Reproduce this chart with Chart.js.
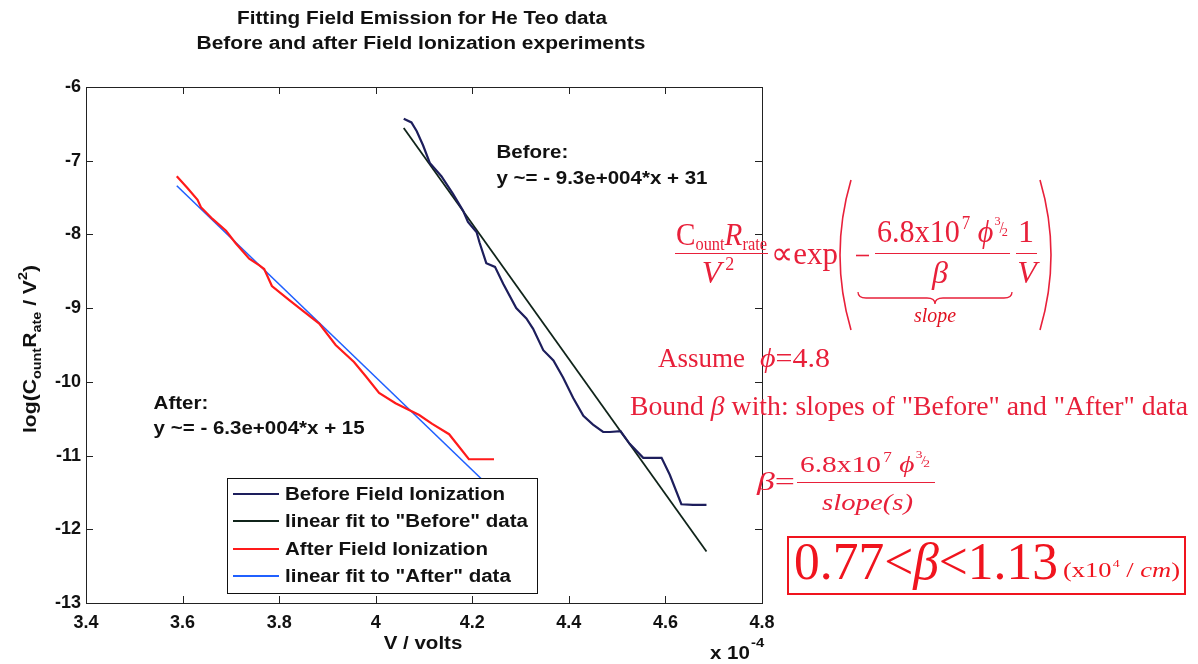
<!DOCTYPE html>
<html>
<head>
<meta charset="utf-8">
<script src="https://cdn.jsdelivr.net/npm/chart.js@4.4.0/dist/chart.umd.min.js"></script>
<style>
    html, body { margin: 0; padding: 0; background: #fff; }
</style>
</head>
<body>
<canvas id="chart" width="1198" height="664"></canvas>
<script>
// axis ticks (V in units of 1e-4 volts)
var xTicks = [3.4, 3.6, 3.8, 4.0, 4.2, 4.4, 4.6, 4.8];
var yTicks = [-13, -12, -11, -10, -9, -8, -7, -6];

// Before Field Ionization
var beforeV = [4.058, 4.074, 4.085, 4.098, 4.112, 4.136, 4.160, 4.181, 4.191, 4.209, 4.215, 4.229, 4.247, 4.264, 4.291,
    4.312, 4.326, 4.347, 4.368, 4.388, 4.409, 4.430, 4.450, 4.471, 4.485, 4.507, 4.526, 4.554, 4.592, 4.609, 4.633, 4.657, 4.685];
var beforeY = [-6.43, -6.48, -6.60, -6.79, -7.03, -7.21, -7.45, -7.68, -7.83, -7.97, -8.11, -8.39, -8.44, -8.67, -9.00,
    -9.14, -9.28, -9.57, -9.71, -9.94, -10.22, -10.46, -10.58, -10.68, -10.68, -10.67, -10.84, -11.03, -11.03, -11.26, -11.66, -11.67, -11.67];
var beforeFitV = [4.058, 4.685];
var beforeFitY = [-6.555, -12.30];

// After Field Ionization
var afterV = [3.588, 3.610, 3.631, 3.638, 3.662, 3.690, 3.710, 3.738, 3.759, 3.769, 3.785, 3.821, 3.848, 3.883, 3.917,
    3.955, 3.979, 4.007, 4.041, 4.090, 4.117, 4.152, 4.193, 4.245];
var afterY = [-7.21, -7.37, -7.53, -7.63, -7.79, -7.95, -8.12, -8.33, -8.42, -8.47, -8.70, -8.89, -9.03, -9.21, -9.50,
    -9.73, -9.92, -10.15, -10.29, -10.45, -10.57, -10.71, -11.05, -11.05];
var afterFitV = [3.588, 4.245];
var afterFitY = [-7.34, -11.48];

var SANS = "'Liberation Sans', Arial, Helvetica, sans-serif";
var SERIF = "'Liberation Serif', 'Times New Roman', serif";
var RED = '#e8203a';
var STRETCH = 1.14; // the matlab text is a bit wider than Liberation Sans

function pts(xs, ys) {
    return xs.map(function (x, i) { return { x: x, y: ys[i] }; });
}

// draw a row of text pieces: [text, font, dy, dx]; optionally squeezed to a width
function drawRuns(ctx, runs, x, y, fitW, align) {
    var w = 0;
    runs.forEach(function (r) { ctx.font = r[1]; w += ctx.measureText(r[0]).width + (r[3] || 0); });
    var sx = fitW ? fitW / w : 1;
    var x0 = align === 'center' ? x - (fitW || w) / 2 : x;
    ctx.save();
    ctx.translate(x0, y);
    ctx.scale(sx, 1);
    var cx = 0;
    runs.forEach(function (r) {
        ctx.font = r[1];
        cx += (r[3] || 0);
        ctx.fillText(r[0], cx, r[2] || 0);
        cx += ctx.measureText(r[0]).width;
    });
    ctx.restore();
}

// wide sans text like the original figure
function wideText(ctx, text, font, x, y, align) {
    ctx.font = font;
    var w = ctx.measureText(text).width * STRETCH;
    drawRuns(ctx, [[text, font]], x, y, w, align);
}

function hline(ctx, x1, x2, y, w) {
    ctx.beginPath();
    ctx.lineWidth = w || 1;
    ctx.moveTo(x1, y);
    ctx.lineTo(x2, y);
    ctx.stroke();
}

var framePlugin = {
    id: 'frame',
    afterDatasetsDraw: function (chart) {
        var ctx = chart.ctx, a = chart.chartArea;
        var xs = chart.scales.x, ys = chart.scales.y;
        ctx.save();
        ctx.strokeStyle = '#222';
        ctx.lineWidth = 1;
        ctx.strokeRect(a.left + 0.5, a.top + 0.5, a.right - a.left, a.bottom - a.top);
        // inward ticks on all four sides
        ctx.beginPath();
        xTicks.forEach(function (v) {
            var px = Math.round(xs.getPixelForValue(v)) + 0.5;
            ctx.moveTo(px, a.bottom); ctx.lineTo(px, a.bottom - 7);
            ctx.moveTo(px, a.top); ctx.lineTo(px, a.top + 7);
        });
        yTicks.forEach(function (v) {
            var py = Math.round(ys.getPixelForValue(v)) + 0.5;
            ctx.moveTo(a.left, py); ctx.lineTo(a.left + 7, py);
            ctx.moveTo(a.right, py); ctx.lineTo(a.right - 7, py);
        });
        ctx.stroke();

        // legend box
        var lx = 227, ly = 478, lw = 310, lh = 115;
        ctx.fillStyle = '#fff';
        ctx.fillRect(lx, ly, lw, lh);
        ctx.strokeStyle = '#111';
        ctx.strokeRect(lx + 0.5, ly + 0.5, lw, lh);
        var rowsY = [494, 521, 549, 576];
        ctx.textBaseline = 'middle';
        chart.data.datasets.forEach(function (ds, i) {
            ctx.strokeStyle = ds.borderColor;
            hline(ctx, 233, 279, rowsY[i], 2);
            ctx.fillStyle = '#111';
            wideText(ctx, ds.label, 'bold 18px ' + SANS, 285, rowsY[i] + 1);
        });

        // fit equations
        ctx.fillStyle = '#111';
        var f = 'bold 18px ' + SANS;
        var bx = xs.getPixelForValue(4.25), ax = xs.getPixelForValue(3.54);
        wideText(ctx, 'Before:', f, bx, 153);
        wideText(ctx, 'y ~= - 9.3e+004*x + 31', f, bx, 179);
        wideText(ctx, 'After:', f, ax, 404);
        wideText(ctx, 'y ~= - 6.3e+004*x + 15', f, ax, 429);
        ctx.restore();
    },
    afterDraw: function (chart) {
        var ctx = chart.ctx;
        ctx.save();
        ctx.textBaseline = 'middle';
        ctx.fillStyle = '#111';
        var tf = 'bold 18px ' + SANS;
        drawRuns(ctx, [['Fitting Field Emission for He Teo data', tf]], 422, 19, 370, 'center');
        drawRuns(ctx, [['Before and after Field Ionization experiments', tf]], 421, 44, 449, 'center');

        wideText(ctx, 'V / volts', 'bold 18px ' + SANS, 423, 644, 'center');
        wideText(ctx, 'x 10', 'bold 18px ' + SANS, 710, 654);
        wideText(ctx, '-4', 'bold 13px ' + SANS, 751, 643);

        // y axis title
        ctx.save();
        ctx.translate(36, 349);
        ctx.rotate(-Math.PI / 2);
        ctx.textBaseline = 'alphabetic';
        var B = 'bold 19px ' + SANS, b = 'bold 13px ' + SANS;
        drawRuns(ctx, [['log(C', B], ['ount', b, 5], ['R', B], ['ate', b, 5], [' / V', B], ['2', b, -9], [')', B]], 0, 0, 168, 'center');
        ctx.restore();

        // red formulas
        ctx.textBaseline = 'alphabetic';
        ctx.fillStyle = RED;
        ctx.strokeStyle = RED;
        var F = function (s) { return s + 'px ' + SERIF; };
        var I = function (s) { return 'italic ' + s + 'px ' + SERIF; };
        var PHI = '\u03D5';

        drawRuns(ctx, [['C', F(32)], ['ount', F(18), 5], ['R', I(32)], ['rate', F(18), 5]], 676, 245, 91);
        hline(ctx, 675, 768, 253.5, 1);
        drawRuns(ctx, [['V', I(32)], ['2', F(18), -13, 4]], 718, 283, null, 'center');
        drawRuns(ctx, [['\u221D', F(32)], ['exp', F(32)]], 771, 264, 67);
        // big parentheses
        ctx.lineWidth = 1.6;
        ctx.beginPath();
        ctx.moveTo(851, 180); ctx.quadraticCurveTo(829, 255, 851, 330);
        ctx.moveTo(1040, 180); ctx.quadraticCurveTo(1062, 255, 1040, 330);
        ctx.stroke();
        hline(ctx, 856, 869, 255.5, 1.6);
        drawRuns(ctx, [['6.8x10', F(32)], ['7', F(18), -13, 2], [PHI, I(32), 0, 8], ['3', F(13), -17, 1], ['/', F(16), -9, -1], ['2', F(13), -6, -2]], 877, 242, 131);
        hline(ctx, 875, 1010, 253.5, 1);
        drawRuns(ctx, [['\u03B2', I(32)]], 940, 283, null, 'center');
        drawRuns(ctx, [['1', F(32)]], 1026, 242, null, 'center');
        hline(ctx, 1016, 1037, 253.5, 1);
        drawRuns(ctx, [['V', I(32)]], 1027, 283, null, 'center');
        // underbrace
        ctx.lineWidth = 1.3;
        ctx.beginPath();
        ctx.moveTo(858, 292);
        ctx.quadraticCurveTo(858, 298, 866, 298);
        ctx.lineTo(927, 298);
        ctx.quadraticCurveTo(935, 298, 935, 304);
        ctx.quadraticCurveTo(935, 298, 943, 298);
        ctx.lineTo(1004, 298);
        ctx.quadraticCurveTo(1012, 298, 1012, 292);
        ctx.stroke();
        ctx.fillStyle = '#e01020';
        drawRuns(ctx, [['slope', I(21)]], 935, 322, 42, 'center');
        ctx.fillStyle = RED;

        drawRuns(ctx, [['Assume', F(28)]], 658, 367, 87);
        drawRuns(ctx, [[PHI, I(28)], ['=4.8', F(28)]], 760, 367, 70);
        drawRuns(ctx, [['Bound ', F(28)], ['\u03B2', I(28)], [' with: slopes of "Before" and "After" data', F(28)]], 630, 415, 558);

        drawRuns(ctx, [['\u03B2', I(26)], ['=', F(26)]], 757, 490, 38);
        drawRuns(ctx, [['6.8x10', F(24)], ['7', F(14), -10, 2], [PHI, I(24), 0, 6], ['3', F(11), -14, 1], ['/', F(13), -8, -1], ['2', F(11), -5, -2]], 800, 472, 130);
        hline(ctx, 797, 935, 482.5, 1);
        drawRuns(ctx, [['slope(s)', I(24)]], 822, 510, 91);

        // result box
        ctx.strokeStyle = '#f0141e';
        ctx.fillStyle = '#f0141e';
        ctx.lineWidth = 2;
        ctx.strokeRect(788, 537, 397, 57);
        drawRuns(ctx, [['0.77<', F(52)], ['\u03B2', I(52)], ['<1.13', F(52)]], 794, 579, 264);
        drawRuns(ctx, [['(x10', F(21)], ['4', F(11), -10, 1], [' / ', F(21)], ['cm', I(21)], [')', F(21)]], 1063, 577, 117);
        ctx.restore();
    }
};

var ctx = document.getElementById('chart').getContext('2d');
var chart = new Chart(ctx, {
    type: 'scatter',
    data: {
        datasets: [{
            label: 'Before Field Ionization',
            data: pts(beforeV, beforeY),
            borderColor: '#1d1e5c',
            borderWidth: 2.2
        }, {
            label: 'linear fit to "Before" data',
            data: pts(beforeFitV, beforeFitY),
            borderColor: '#10241a',
            borderWidth: 1.8
        }, {
            label: 'After Field Ionization',
            data: pts(afterV, afterY),
            borderColor: '#ff1a1a',
            borderWidth: 2.2
        }, {
            label: 'linear fit to "After" data',
            data: pts(afterFitV, afterFitY),
            borderColor: '#2060ff',
            borderWidth: 1.6
        }]
    },
    options: {
        responsive: false,
        animation: false,
        devicePixelRatio: 1,
        showLine: true,
        elements: {
            point: { radius: 0, hoverRadius: 0 },
            line: { tension: 0, fill: false }
        },
        layout: { padding: { left: 0, top: 87, right: 436, bottom: 0 } },
        plugins: {
            legend: { display: false },
            title: { display: false },
            tooltip: { enabled: false }
        },
        scales: {
            x: {
                type: 'linear',
                min: 3.4,
                max: 4.8,
                afterBuildTicks: function (s) { s.ticks = xTicks.map(function (v) { return { value: v }; }); },
                afterFit: function (s) { s.height = 61; },
                grid: { display: false, drawTicks: false },
                border: { display: false },
                ticks: {
                    color: '#111',
                    padding: 9,
                    maxRotation: 0,
                    autoSkip: false,
                    font: { family: SANS, size: 18, weight: 'bold' },
                    callback: function (v) { return String(Number(v.toFixed(1))); }
                }
            },
            y: {
                type: 'linear',
                min: -13,
                max: -6,
                afterBuildTicks: function (s) { s.ticks = yTicks.map(function (v) { return { value: v }; }); },
                afterFit: function (s) { s.width = 86; },
                grid: { display: false, drawTicks: false },
                border: { display: false },
                ticks: {
                    color: '#111',
                    padding: 5,
                    autoSkip: false,
                    font: { family: SANS, size: 18, weight: 'bold' },
                    callback: function (v) { return String(v); }
                }
            }
        }
    },
    plugins: [framePlugin]
});
</script>
</body>
</html>
